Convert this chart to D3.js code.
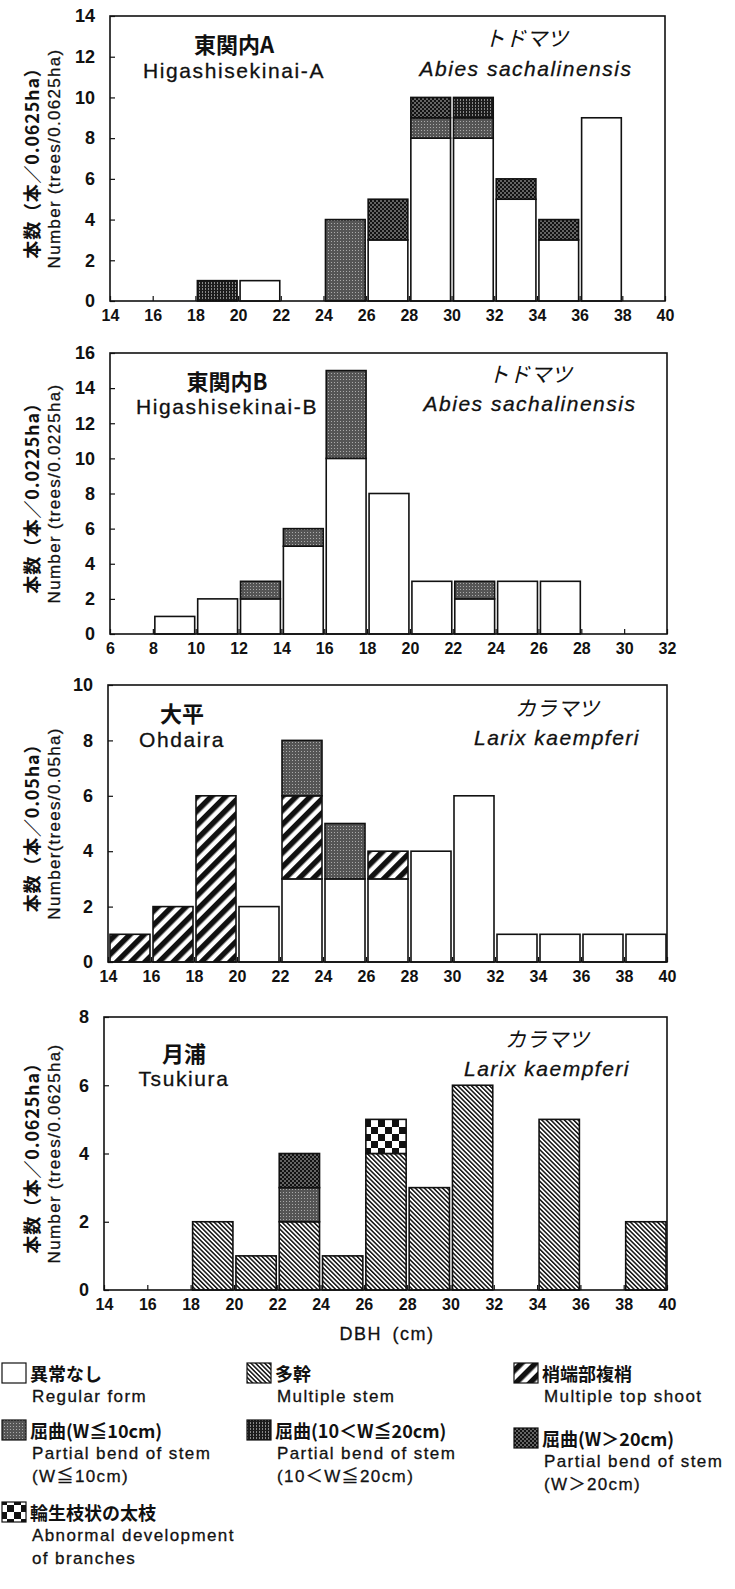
<!DOCTYPE html>
<html>
<head>
<meta charset="utf-8">
<script src="https://cdn.jsdelivr.net/npm/d3@7"></script>
<style>
  body { margin: 0; background: #fff; }
  svg text { font-family: "Liberation Sans", "Noto Sans CJK JP", sans-serif; fill: #111; }
  svg .ja { font-family: "Noto Sans CJK JP", sans-serif; }
  svg .en { letter-spacing: 1.4px; stroke: #111; stroke-width: 0.3px; }
</style>
</head>
<body>
<svg id="chart"></svg>
<script>
// stem form categories, bottom to top of each stack
let categories = ['regular', 'multiStem', 'topShoot', 'bend10', 'bend20', 'bendOver20', 'branches'];

// panel A : 東関内A, Abies sachalinensis
let binsA = [18, 20, 24, 26, 28, 30, 32, 34, 36];
let regularA = [0, 1, 0, 3, 8, 8, 5, 3, 9];
let bend10A = [0, 0, 4, 0, 1, 1, 0, 0, 0];
let bend20A = [1, 0, 0, 0, 0, 1, 0, 0, 0];
let bendOver20A = [0, 0, 0, 2, 1, 0, 1, 1, 0];

// panel B : 東関内B, Abies sachalinensis
let binsB = [8, 10, 12, 14, 16, 18, 20, 22, 24, 26];
let regularB = [1, 2, 2, 5, 10, 8, 3, 2, 3, 3];
let bend10B = [0, 0, 1, 1, 5, 0, 0, 1, 0, 0];

// panel C : 大平, Larix kaempferi
let binsC = [14, 16, 18, 20, 22, 24, 26, 28, 30, 32, 34, 36, 38];
let regularC = [0, 0, 0, 2, 3, 3, 3, 4, 6, 1, 1, 1, 1];
let topShootC = [1, 2, 6, 0, 3, 0, 1, 0, 0, 0, 0, 0, 0];
let bend10C = [0, 0, 0, 0, 2, 2, 0, 0, 0, 0, 0, 0, 0];

// panel D : 月浦, Larix kaempferi
let binsD = [18, 20, 22, 24, 26, 28, 30, 34, 38];
let multiStemD = [2, 1, 2, 1, 4, 3, 6, 5, 2];
let bend10D = [0, 0, 1, 0, 0, 0, 0, 0, 0];
let bendOver20D = [0, 0, 1, 0, 0, 0, 0, 0, 0];
let branchesD = [0, 0, 0, 0, 1, 0, 0, 0, 0];

// axis ticks
let xTicksA = d3.range(14, 41, 2);
let xTicksB = d3.range(6, 33, 2);
let yTicksA = d3.range(0, 15, 2);
let yTicksB = d3.range(0, 17, 2);
let yTicksC = d3.range(0, 11, 2);
let yTicksD = d3.range(0, 9, 2);

// legend texts
let legendJa = ['異常なし', '多幹', '梢端部複梢', '屈曲(W≦10cm)', '屈曲(10＜W≦20cm)', '屈曲(W＞20cm)', '輪生枝状の太枝'];
let legendEn = [['Regular form'], ['Multiple stem'], ['Multiple top shoot'],
  ['Partial bend of stem', '(W≦10cm)'], ['Partial bend of stem', '(10＜W≦20cm)'],
  ['Partial bend of stem', '(W＞20cm)'], ['Abnormal development', 'of branches']];
let legendKeys = ['regular', 'multiStem', 'topShoot', 'bend10', 'bend20', 'bendOver20', 'branches'];

let width = 735;
let height = 1589;

let svg = d3.select('#chart').attr('width', width).attr('height', height);

let makeRows = (bins, series) => {
  return bins.map((b, i) => {
    let row = { bin: b };
    categories.forEach(c => { row[c] = series[c] ? series[c][i] : 0; });
    return row;
  });
}

let panels = [
  { top: 16, bottom: 301, left: 110, right: 665, xDomain: [14, 40], yMax: 14, xTicks: xTicksA, yTicks: yTicksA,
    rows: makeRows(binsA, { regular: regularA, bend10: bend10A, bend20: bend20A, bendOver20: bendOver20A }),
    yJa: '本数（本／0.0625ha）', yEn: 'Number (trees/0.0625ha)',
    siteJa: '東関内A', siteEn: 'Higashisekinai-A', siteX: 234, siteY: [43, 70],
    spJa: 'トドマツ', spEn: 'Abies sachalinensis', spX: 526, spY: [37, 68] },
  { top: 353, bottom: 634, left: 110, right: 667, xDomain: [6, 32], yMax: 16, xTicks: xTicksB, yTicks: yTicksB,
    rows: makeRows(binsB, { regular: regularB, bend10: bend10B }),
    yJa: '本数（本／0.0225ha）', yEn: 'Number (trees/0.0225ha)',
    siteJa: '東関内B', siteEn: 'Higashisekinai-B', siteX: 227, siteY: [380, 406],
    spJa: 'トドマツ', spEn: 'Abies sachalinensis', spX: 530, spY: [373, 403] },
  { top: 685, bottom: 962, left: 108, right: 667, xDomain: [14, 40], yMax: 10, xTicks: xTicksA, yTicks: yTicksC,
    rows: makeRows(binsC, { regular: regularC, topShoot: topShootC, bend10: bend10C }),
    yJa: '本数（本／0.05ha）', yEn: 'Number(trees/0.05ha)',
    siteJa: '大平', siteEn: 'Ohdaira', siteX: 182, siteY: [712, 739],
    spJa: 'カラマツ', spEn: 'Larix kaempferi', spX: 557, spY: [707, 737] },
  { top: 1017, bottom: 1290, left: 104, right: 667, xDomain: [14, 40], yMax: 8, xTicks: xTicksA, yTicks: yTicksD,
    rows: makeRows(binsD, { multiStem: multiStemD, bend10: bend10D, bendOver20: bendOver20D, branches: branchesD }),
    yJa: '本数（本／0.0625ha）', yEn: 'Number (trees/0.0625ha)',
    siteJa: '月浦', siteEn: 'Tsukiura', siteX: 184, siteY: [1052, 1078],
    spJa: 'カラマツ', spEn: 'Larix kaempferi', spX: 547, spY: [1038, 1068] }
];

// fill patterns
let defs = svg.append('defs');

let p = defs.append('pattern').attr('id', 'pat-multiStem').attr('patternUnits', 'userSpaceOnUse')
  .attr('width', 3.2).attr('height', 10).attr('patternTransform', 'rotate(-45)');
p.append('rect').attr('width', 3.2).attr('height', 10).attr('fill', '#fff');
p.append('rect').attr('width', 1.5).attr('height', 10).attr('fill', '#111');

p = defs.append('pattern').attr('id', 'pat-topShoot').attr('patternUnits', 'userSpaceOnUse')
  .attr('width', 10).attr('height', 10).attr('patternTransform', 'rotate(45)');
p.append('rect').attr('width', 10).attr('height', 10).attr('fill', '#fff');
p.append('rect').attr('width', 5.5).attr('height', 10).attr('fill', '#111');

p = defs.append('pattern').attr('id', 'pat-bend10').attr('patternUnits', 'userSpaceOnUse')
  .attr('width', 3).attr('height', 3);
p.append('rect').attr('width', 3).attr('height', 3).attr('fill', '#555');
p.append('rect').attr('x', 1).attr('y', 1).attr('width', 1).attr('height', 1).attr('fill', '#aaa');

p = defs.append('pattern').attr('id', 'pat-bend20').attr('patternUnits', 'userSpaceOnUse')
  .attr('width', 3).attr('height', 3);
p.append('rect').attr('width', 3).attr('height', 3).attr('fill', '#1c1c1c');
p.append('rect').attr('x', 1).attr('y', 0).attr('width', 1).attr('height', 2).attr('fill', '#888');

p = defs.append('pattern').attr('id', 'pat-bendOver20').attr('patternUnits', 'userSpaceOnUse')
  .attr('width', 4).attr('height', 4);
p.append('rect').attr('width', 4).attr('height', 4).attr('fill', '#111');
p.append('circle').attr('cx', 1).attr('cy', 1).attr('r', 0.8).attr('fill', '#ccc');
p.append('circle').attr('cx', 3).attr('cy', 3).attr('r', 0.8).attr('fill', '#ccc');

p = defs.append('pattern').attr('id', 'pat-branches').attr('patternUnits', 'userSpaceOnUse')
  .attr('width', 14).attr('height', 14);
p.append('rect').attr('width', 14).attr('height', 14).attr('fill', '#fff');
p.append('rect').attr('width', 7).attr('height', 7).attr('fill', '#111');
p.append('rect').attr('x', 7).attr('y', 7).attr('width', 7).attr('height', 7).attr('fill', '#111');

let fillFor = (key) => key === 'regular' ? '#fff' : `url(#pat-${key})`;

let stack = d3.stack().keys(categories);

let drawPanel = (cfg) => {
  let xScale = d3.scaleLinear().domain(cfg.xDomain).range([cfg.left, cfg.right]);
  let yScale = d3.scaleLinear().domain([0, cfg.yMax]).range([cfg.bottom, cfg.top]);
  let g = svg.append('g');

  let layers = stack(cfg.rows);
  layers.forEach(layer => {
    g.selectAll(null)
      .data(layer.filter(d => d[1] > d[0]))
      .enter()
      .append('rect')
      .attr('x', d => xScale(d.data.bin) + 2)
      .attr('width', d => xScale(d.data.bin + 2) - xScale(d.data.bin) - 3)
      .attr('y', d => yScale(d[1]))
      .attr('height', d => yScale(d[0]) - yScale(d[1]))
      .attr('fill', fillFor(layer.key))
      .attr('stroke', '#111')
      .attr('stroke-width', 1.6);
  });

  // frame
  g.append('rect')
    .attr('x', cfg.left).attr('y', cfg.top)
    .attr('width', cfg.right - cfg.left).attr('height', cfg.bottom - cfg.top)
    .attr('fill', 'none').attr('stroke', '#111').attr('stroke-width', 1.6);

  let xAxis = d3.axisBottom(xScale).tickValues(cfg.xTicks).tickSizeInner(-5).tickSizeOuter(0).tickPadding(9);
  let xg = g.append('g').attr('transform', `translate(0, ${cfg.bottom})`).call(xAxis);
  xg.select('.domain').remove();
  xg.selectAll('text').style('font-size', '16px').style('font-weight', 'bold');

  let yAxis = d3.axisLeft(yScale).tickValues(cfg.yTicks).tickSizeInner(-5).tickSizeOuter(0).tickPadding(15);
  let yg = g.append('g').attr('transform', `translate(${cfg.left}, 0)`).call(yAxis);
  yg.select('.domain').remove();
  yg.selectAll('text').style('font-size', '18px').style('font-weight', 'bold');
  g.selectAll('.tick line').attr('stroke', '#111').attr('stroke-width', 1.2);

  let midY = (cfg.top + cfg.bottom) / 2;
  g.append('text').attr('class', 'ja')
    .attr('transform', `translate(31, ${midY}) rotate(-90)`)
    .attr('text-anchor', 'middle').attr('dominant-baseline', 'central')
    .style('font-size', '18px').style('font-weight', 'bold').style('letter-spacing', '0.8px')
    .text(cfg.yJa);
  g.append('text').attr('class', 'en')
    .attr('transform', `translate(54, ${midY}) rotate(-90)`)
    .attr('text-anchor', 'middle').attr('dominant-baseline', 'central')
    .style('font-size', '17px').style('letter-spacing', '1.3px')
    .text(cfg.yEn);

  // site and species names
  g.append('text').attr('class', 'ja')
    .attr('x', cfg.siteX).attr('y', cfg.siteY[0])
    .attr('text-anchor', 'middle').attr('dominant-baseline', 'central')
    .style('font-size', '22px').style('font-weight', 'bold')
    .text(cfg.siteJa);
  g.append('text').attr('class', 'en')
    .attr('x', cfg.siteX).attr('y', cfg.siteY[1])
    .attr('text-anchor', 'middle').attr('dominant-baseline', 'central')
    .style('font-size', '21px').style('letter-spacing', '1.6px')
    .text(cfg.siteEn);
  g.append('text').attr('class', 'ja')
    .attr('x', cfg.spX).attr('y', cfg.spY[0])
    .attr('text-anchor', 'middle').attr('dominant-baseline', 'central')
    .style('font-size', '21px').style('font-style', 'italic')
    .text(cfg.spJa);
  g.append('text').attr('class', 'en')
    .attr('x', cfg.spX).attr('y', cfg.spY[1])
    .attr('text-anchor', 'middle').attr('dominant-baseline', 'central')
    .style('font-size', '21px').style('font-style', 'italic').style('letter-spacing', '1.5px')
    .text(cfg.spEn);
}

panels.forEach(drawPanel);

svg.append('text').attr('class', 'en')
  .attr('x', 387).attr('y', 1334)
  .attr('text-anchor', 'middle').attr('dominant-baseline', 'central')
  .style('font-size', '18px').style('letter-spacing', '1.5px')
  .text('DBH\u2002(cm)');

// legend
let legendCols = [2, 247, 514];
let legendRows = [1373, 1430, 1512];
let legendRowShift = [0, 0, 0, 0, 0, 8, 0];

let legend = svg.append('g');
legendKeys.forEach((key, i) => {
  let cx = legendCols[i % 3];
  let cy = legendRows[Math.floor(i / 3)] + legendRowShift[i];
  legend.append('rect')
    .attr('x', cx).attr('y', cy - 10)
    .attr('width', 24).attr('height', 20)
    .attr('fill', fillFor(key)).attr('stroke', '#111').attr('stroke-width', 1.2);
  legend.append('text').attr('class', 'ja')
    .attr('x', cx + 28).attr('y', cy)
    .attr('dominant-baseline', 'central')
    .style('font-size', '18px').style('font-weight', 'bold')
    .text(legendJa[i]);
  legendEn[i].forEach((line, j) => {
    legend.append('text').attr('class', 'en')
      .attr('x', cx + 30).attr('y', cy + 23 + j * 23)
      .attr('dominant-baseline', 'central')
      .style('font-size', '17px').style('letter-spacing', '1.4px')
      .text(line);
  });
});
</script>
</body>
</html>
